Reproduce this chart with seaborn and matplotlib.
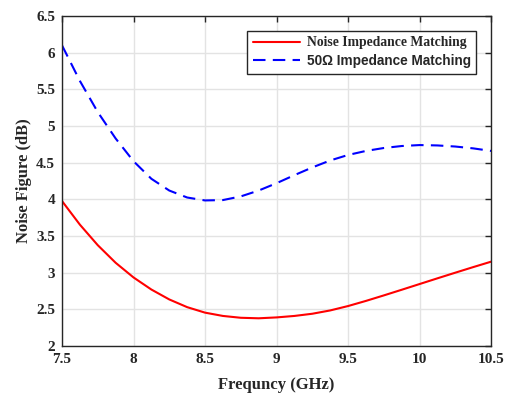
# Noise figure vs frequency: noise matching vs 50 ohm matching

import numpy as np
import pandas as pd
import matplotlib
matplotlib.use("Agg")
import matplotlib.pyplot as plt
import seaborn as sns

# Data
freq = [7.5, 7.625, 7.75, 7.875, 8.0, 8.125, 8.25, 8.375, 8.5, 8.625, 8.75, 8.875,
        9.0, 9.125, 9.25, 9.375, 9.5, 9.625, 9.75, 9.875, 10.0, 10.125, 10.25, 10.375, 10.5]
nf_noise_match = [3.977, 3.655, 3.375, 3.135, 2.935, 2.77, 2.635, 2.53, 2.455, 2.41, 2.385, 2.378,
                  2.39, 2.41, 2.44, 2.485, 2.545, 2.615, 2.69, 2.767, 2.845, 2.923, 3.00, 3.076, 3.15]
nf_50_match = [6.10, 5.615, 5.19, 4.83, 4.52, 4.28, 4.12, 4.025, 3.985, 3.99, 4.04, 4.12,
               4.22, 4.33, 4.435, 4.53, 4.605, 4.66, 4.70, 4.727, 4.74, 4.735, 4.72, 4.695, 4.66]
labels = ["Noise Impedance Matching", "50\u03a9 Impedance Matching"]
x_ticks = [7.5, 8, 8.5, 9, 9.5, 10, 10.5]
y_ticks = [2, 2.5, 3, 3.5, 4, 4.5, 5, 5.5, 6, 6.5]

df = pd.DataFrame({"freq": freq, labels[0]: nf_noise_match, labels[1]: nf_50_match})

sns.set_style("whitegrid")
plt.rcParams['font.family'] = ['Liberation Serif', 'DejaVu Serif']
plt.rcParams['font.weight'] = 'bold'
plt.rcParams['axes.labelweight'] = 'bold'

fig = plt.figure(figsize=(5.09, 3.94), dpi=100)
ax = fig.add_axes([0.1218, 0.1218, 0.843, 0.8376])

sns.lineplot(data=df, x="freq", y=labels[0], ax=ax, color="#ff0000", lw=1.5, label=labels[0])
sns.lineplot(data=df, x="freq", y=labels[1], ax=ax, color="#0000ff", lw=1.5,
             dashes=False, label=labels[1])
ax.lines[1].set_dashes((6, 3.5))

ax.set_xlim(7.5, 10.5)
ax.set_ylim(2, 6.5)
ax.set_xticks(x_ticks)
ax.set_xticklabels([f"{t:g}" for t in x_ticks])
ax.set_yticks(y_ticks)
ax.set_yticklabels([f"{t:g}" for t in y_ticks])
ax.set_xlabel("Frequncy (GHz)", fontsize=12, labelpad=8)
ax.set_ylabel("Noise Figure (dB)", fontsize=12, labelpad=3)

ax.grid(True, color="#e3e3e3", lw=1.0)
for s in ax.spines.values():
    s.set_color("#262626")
    s.set_linewidth(1.0)
ax.tick_params(direction="in", length=4, width=1.0, color="#262626",
               labelsize=11, top=True, right=True, pad=5)

leg = ax.legend(loc="upper right", bbox_to_anchor=(0.965, 0.9545), fontsize=9.8,
                frameon=True, fancybox=False, framealpha=1, edgecolor="#262626",
                borderpad=0.4, labelspacing=0.35, handlelength=3.45, handletextpad=0.5,
                borderaxespad=0)
leg.get_frame().set_linewidth(1.0)
leg.get_texts()[1].set_family('Liberation Sans')

fig.savefig("out.png", dpi=100)
